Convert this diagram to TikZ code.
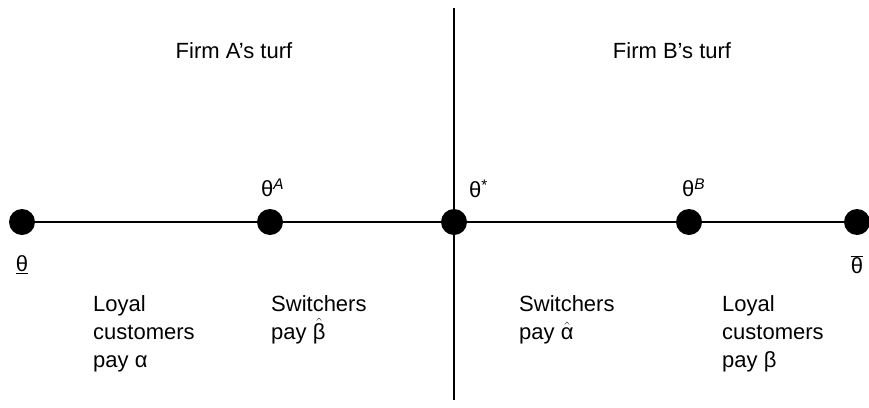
\documentclass[tikz,border=0pt]{standalone}
\usepackage{fontspec}
\setmainfont{Liberation Sans}
\usetikzlibrary{positioning}
\tikzset{
  dot/.style={circle, fill, inner sep=0pt, minimum size=26pt},
  txt/.style={align=left, inner sep=0pt, anchor=north west, font=\fontsize{22}{28}\selectfont},
  sym/.style={inner sep=0pt, font=\fontsize{22}{28}\selectfont}
}

\begin{document}
\begin{tikzpicture}[x=1pt, y=-1pt]
  \useasboundingbox (0,0) rectangle (869,407);

  % divider between the two turfs
  \coordinate (top) at (454,8);
  \coordinate (bot) at (454,400);
  \draw [line width=2.6pt] (top) -- (bot);

  % the line of consumer types
  \node [dot] (low) at (22,222) {};
  \node [dot] (thA) at (270,222) {};
  \node [dot] (star) at (454,222) {};
  \node [dot] (thB) at (689,222) {};
  \node [dot] (high) at (857,222) {};
  \draw [line width=2.6pt] (low) -- (thA) -- (star) -- (thB) -- (high);

  \node [sym, below=20pt of low] {$\underline{\mbox{θ}}$};
  \node [sym, anchor=west] at (261,188) {θ\textsuperscript{\textit{A}}};
  \node [sym, anchor=west] at (469,189) {θ\textsuperscript{*}};
  \node [sym, anchor=west] at (682,188) {θ\textsuperscript{\textit{B}}};
  \node [sym, below=20pt of high] {$\overline{\mbox{θ}}$};

  % turf headings
  \node [sym, anchor=base] at (234,58) {Firm A’s turf};
  \node [sym, anchor=base] at (672,58) {Firm B’s turf};

  % prices paid in each segment
  \node [txt] at (93,295) {Loyal\\customers\\pay α};
  \node [txt] at (271,295) {Switchers\\pay \smash{$\hat{\mbox{β}}$}};
  \node [txt] at (519,295) {Switchers\\pay \smash{$\hat{\mbox{α}}$}};
  \node [txt] at (722,295) {Loyal\\customers\\pay β};
\end{tikzpicture}
\end{document}
